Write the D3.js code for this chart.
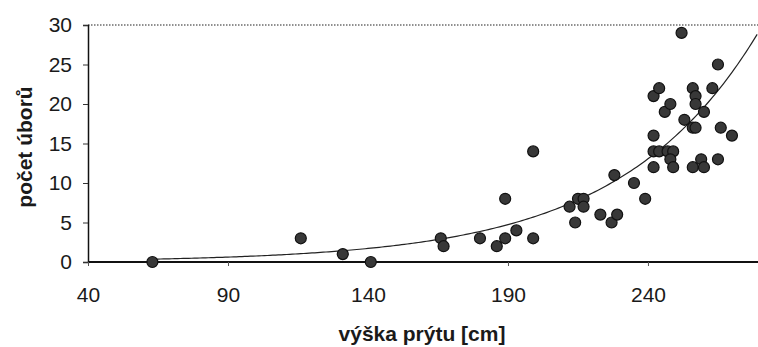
<!DOCTYPE html>
<html>
<head>
<meta charset="utf-8">
<script src="https://cdn.jsdelivr.net/npm/d3@7"></script>
<style>
  body { margin: 0; background: #fff; }
  svg { display: block; font-family: "Liberation Sans", Arial, sans-serif; }
</style>
</head>
<body>
<div id="chart"></div>
<script>
// shoot height [cm] vs number of flower heads
const heights = [63, 116, 131, 141, 166, 167, 180, 189, 186, 189, 193, 199, 199,
  212, 215, 217, 217, 214, 223, 227, 229, 228, 235, 239,
  242, 242, 244, 242, 242, 244, 246, 248, 247, 249, 248, 249,
  252, 253, 256, 257, 256, 257, 257, 260, 256, 259, 260,
  263, 265, 265, 266, 270];
const counts = [0, 3, 1, 0, 3, 2, 3, 8, 2, 3, 4, 14, 3,
  7, 8, 8, 7, 5, 6, 5, 6, 11, 10, 8,
  16, 14, 14, 12, 21, 22, 19, 20, 14, 14, 13, 12,
  29, 18, 17, 17, 22, 21, 20, 19, 12, 13, 12,
  22, 25, 13, 17, 16];

const xTicks = [40, 90, 140, 190, 240];
const yTicks = [0, 5, 10, 15, 20, 25, 30];

// exponential trend y = a * e^(b x)
const trendA = 0.1;
const trendB = 0.0203;

const W = 758, H = 347;
const margin = {top: 25, right: 0, bottom: 85, left: 88};
const iw = W - margin.left - margin.right;
const ih = H - margin.top - margin.bottom;

const svg = d3.select("#chart").append("svg")
  .attr("width", W).attr("height", H);

const g = svg.append("g")
  .attr("transform", `translate(${margin.left},${margin.top})`);

const x = d3.scaleLinear().domain([40, 279.3]).range([0, iw]);
const y = d3.scaleLinear().domain([0, 30]).range([ih, 0]);

// dotted gridlines at top and zero
g.selectAll(".grid")
  .data([0, 30])
  .join("line")
  .attr("x1", 0).attr("x2", iw)
  .attr("y1", d => y(d)).attr("y2", d => y(d))
  .attr("stroke", "#222")
  .attr("stroke-width", 1.2)
  .attr("stroke-dasharray", "1.5,1.5");

// y axis
const yAxis = g.append("g")
  .call(d3.axisLeft(y).tickValues(yTicks).tickSize(5).tickPadding(11));
yAxis.select(".domain").attr("stroke", "#111").attr("stroke-width", 1.5);
yAxis.selectAll(".tick line").attr("stroke", "#333");
yAxis.selectAll("text").attr("font-size", 21).attr("fill", "#1a1a1a");

// x axis
const xAxis = g.append("g")
  .attr("transform", `translate(0,${ih})`)
  .call(d3.axisBottom(x).tickValues(xTicks).tickSize(4).tickPadding(21));
xAxis.select(".domain").attr("stroke", "#111").attr("stroke-width", 2).attr("d", `M0,0H${iw}`);
xAxis.selectAll(".tick line").attr("stroke", "#555");
xAxis.selectAll("text").attr("font-size", 21).attr("fill", "#1a1a1a");

// trend line
const trendX = d3.range(63, 279.4, 1);
const line = d3.line()
  .x(d => x(d))
  .y(d => y(trendA * Math.exp(trendB * d)));
g.append("path")
  .datum(trendX)
  .attr("d", line)
  .attr("fill", "none")
  .attr("stroke", "#222")
  .attr("stroke-width", 1.2);

// points
g.selectAll(".pt")
  .data(heights.map((h, i) => [h, counts[i]]))
  .join("circle")
  .attr("cx", d => x(d[0]))
  .attr("cy", d => y(d[1]))
  .attr("r", 5.5)
  .attr("fill", "#383838")
  .attr("stroke", "#111")
  .attr("stroke-width", 1.2);

// axis titles
svg.append("text")
  .attr("x", 422).attr("y", 341)
  .attr("text-anchor", "middle")
  .attr("font-size", 21).attr("font-weight", "bold")
  .attr("fill", "#1a1a1a")
  .text("výška prýtu [cm]");

svg.append("text")
  .attr("transform", "translate(32,147) rotate(-90)")
  .attr("text-anchor", "middle")
  .attr("font-size", 21).attr("font-weight", "bold")
  .attr("fill", "#1a1a1a")
  .text("počet úborů");
</script>
</body>
</html>
